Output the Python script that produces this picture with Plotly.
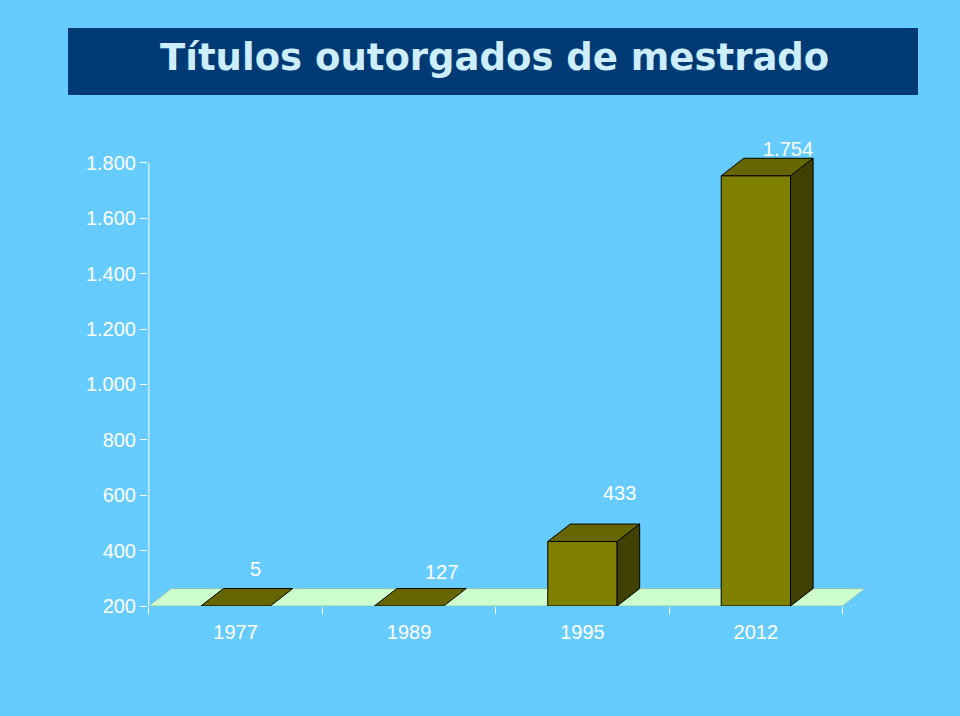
import plotly.graph_objects as go

# ---------------- data ----------------
years = ["1977", "1989", "1995", "2012"]
values = [5, 127, 433, 1754]
value_labels = ["5", "127", "433", "1.754"]
y_tick_values = [200, 400, 600, 800, 1000, 1200, 1400, 1600, 1800]
y_tick_labels = ["200", "400", "600", "800", "1.000", "1.200", "1.400", "1.600", "1.800"]
title_text = "Títulos outorgados de mestrado"

# ---------------- style / layout ----------------
W, H = 960, 716
L, R, T, B = 148, 94, 140, 110
floor_value = 200
x_range = [-0.505, 3.635]
y_range = [200, 1883]
half_w = 0.2          # half bar width in category units
dx, dy = 0.13, 63     # 3D depth offset (category units, value units)
label_shift = [(-3, -20), (10, -17), (15, -31), (10, -9)]  # px shifts of value labels

BG = "#66CCFF"
FRONT = "#808000"
TOP = "#666600"
SIDE = "#404000"
FLOOR = "#CCFFCC"
FONT = "Liberation Sans, Arial, sans-serif"

plot_w = W - L - R
plot_h = H - T - B


def px_x(px):
    return (px - L) / plot_w


def px_y(py):
    return (H - B - py) / plot_h


def poly(xs, ys, fill, line_color="black", line_width=1):
    return go.Scatter(
        x=xs + [xs[0]], y=ys + [ys[0]], mode="lines", fill="toself",
        fillcolor=fill, line=dict(color=line_color, width=line_width),
        hoverinfo="skip", showlegend=False,
    )


fig = go.Figure()

# floor
n = len(years)
fig.add_trace(poly(
    [-0.5, n - 0.5, n - 0.5 + dx, -0.5 + dx],
    [floor_value, floor_value, floor_value + dy, floor_value + dy],
    FLOOR, line_color="#8DB8B8", line_width=0.8,
))

# 3D bars
for i, v in enumerate(values):
    h = max(v, floor_value)
    x0, x1 = i - half_w, i + half_w
    if h > floor_value:
        fig.add_trace(poly([x0, x1, x1, x0], [floor_value, floor_value, h, h], FRONT))
        fig.add_trace(poly([x1, x1 + dx, x1 + dx, x1],
                           [floor_value, floor_value + dy, h + dy, h], SIDE))
    fig.add_trace(poly([x0, x1, x1 + dx, x0 + dx], [h, h, h + dy, h + dy], TOP))

# value labels
for i, (v, lab) in enumerate(zip(values, value_labels)):
    h = max(v, floor_value)
    sx, sy = label_shift[i]
    fig.add_annotation(
        x=i + dx, y=h + dy, text=lab, showarrow=False,
        xshift=sx, yshift=-sy, xanchor="center", yanchor="middle",
        font=dict(family=FONT, size=20, color="white"),
    )

# y axis line
fig.add_shape(type="line", xref="x", yref="y", x0=-0.5, x1=-0.5,
              y0=floor_value, y1=y_tick_values[-1],
              line=dict(color="white", width=1))

# title box
fig.add_shape(type="rect", xref="paper", yref="paper",
              x0=px_x(68), x1=px_x(918), y0=px_y(95), y1=px_y(28),
              fillcolor="#003A75", line=dict(width=0), layer="below")
fig.add_annotation(
    xref="paper", yref="paper", x=px_x(494), y=px_y(57),
    text="<b>" + title_text + "</b>", showarrow=False,
    xanchor="center", yanchor="middle",
    font=dict(family="DejaVu Sans", size=37, color="#CCEEFF"),
)

fig.update_layout(
    width=W, height=H,
    margin=dict(l=L, r=R, t=T, b=B, pad=0),
    paper_bgcolor=BG, plot_bgcolor=BG,
    showlegend=False,
    xaxis=dict(
        range=x_range, tickmode="array", tickvals=list(range(n)), ticktext=years,
        ticks="", showgrid=False, zeroline=False, showline=False,
        tickfont=dict(family=FONT, size=20, color="white"),
        ticklabelstandoff=12,
        minor=dict(tickmode="array", tickvals=[k - 0.5 for k in range(n + 1)],
                   ticks="outside", ticklen=7, tickcolor="white", tickwidth=1,
                   showgrid=False),
        fixedrange=True,
    ),
    yaxis=dict(
        range=y_range, tickmode="array", tickvals=y_tick_values, ticktext=y_tick_labels,
        ticks="outside", ticklen=7, tickcolor="white", tickwidth=1,
        showgrid=False, zeroline=False, showline=False,
        tickfont=dict(family=FONT, size=20, color="white"),
        fixedrange=True,
    ),
)

fig.write_html("out.html")
